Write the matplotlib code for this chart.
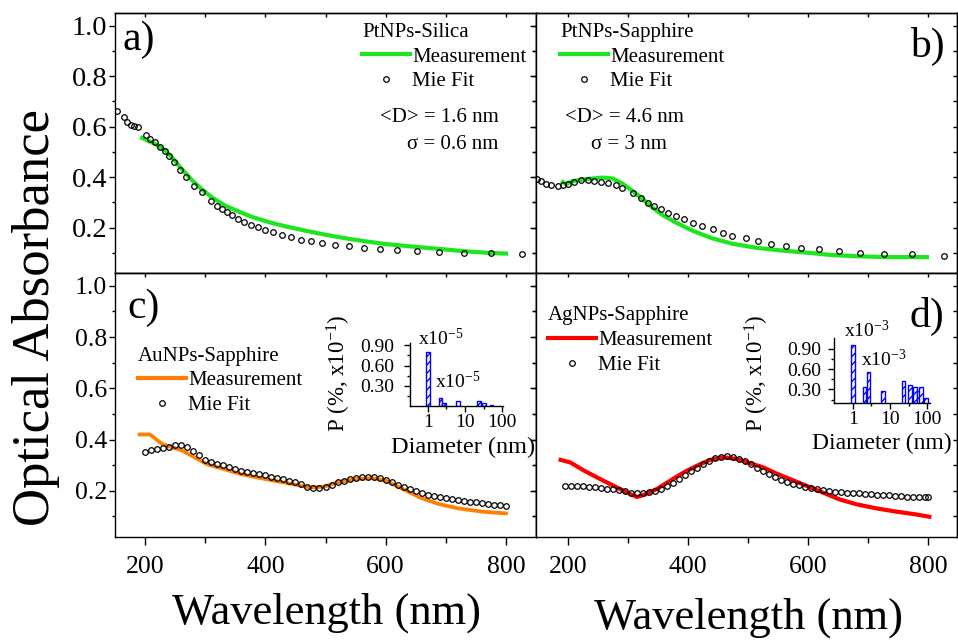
import matplotlib
matplotlib.use('Agg')
import matplotlib.pyplot as plt
from matplotlib.ticker import MultipleLocator, FixedLocator, FixedFormatter, FormatStrFormatter, NullFormatter

plt.rcParams['font.family'] = ['Liberation Serif', 'DejaVu Serif']
plt.rcParams['mathtext.fontset'] = 'custom'
plt.rcParams['mathtext.rm'] = 'Liberation Serif'
plt.rcParams['mathtext.it'] = 'Liberation Serif:italic'
plt.rcParams['axes.linewidth'] = 1.0

# ---------------- data ----------------
# a) PtNPs-Silica
a_meas_x = [195, 217, 234, 247, 261, 278, 294, 311, 333, 355, 377, 405, 433, 466, 499, 532, 565, 599, 643, 687, 731, 770, 800]
a_meas_y = [0.555, 0.531, 0.505, 0.472, 0.432, 0.388, 0.352, 0.320, 0.287, 0.264, 0.243, 0.222, 0.205, 0.188, 0.172, 0.158, 0.146, 0.135, 0.125, 0.116, 0.106, 0.100, 0.097]
a_fit_x = [154, 165, 170, 176, 181, 188, 201, 209, 216, 224, 233, 239, 248, 258, 268, 281, 295, 310, 319, 328, 336, 345, 355, 365,
           376, 387, 400, 413, 427, 443, 459, 476, 495, 516, 539, 564, 590, 619, 652, 689, 730, 776, 826]
a_fit_y = [0.663, 0.637, 0.617, 0.607, 0.601, 0.597, 0.567, 0.551, 0.538, 0.521, 0.505, 0.485, 0.459, 0.430, 0.399, 0.366, 0.340, 0.307,
           0.287, 0.274, 0.261, 0.248, 0.234, 0.224, 0.212, 0.201, 0.191, 0.182, 0.171, 0.162, 0.152, 0.146, 0.138, 0.131, 0.125,
           0.119, 0.114, 0.112, 0.108, 0.104, 0.101, 0.100, 0.097]

# b) PtNPs-Sapphire
b_meas_x = [192, 197, 208, 230, 258, 275, 291, 308, 325, 341, 358, 380, 408, 441, 474, 513, 552, 596, 640, 685, 729, 798]
b_meas_y = [0.380, 0.372, 0.384, 0.392, 0.398, 0.394, 0.374, 0.345, 0.312, 0.279, 0.249, 0.220, 0.187, 0.157, 0.136, 0.120,
            0.110, 0.101, 0.091, 0.086, 0.083, 0.083]
b_fit_x = [149, 156, 164, 172, 183, 192, 200, 211, 222, 233, 244, 255, 267, 280, 291, 308, 322, 333, 344, 355, 366, 380, 394,
           408, 424, 441, 458, 474, 496, 516, 538, 563, 588, 618, 651, 687, 726, 773, 826]
b_fit_y = [0.394, 0.385, 0.374, 0.369, 0.365, 0.368, 0.374, 0.382, 0.388, 0.388, 0.385, 0.381, 0.378, 0.368, 0.355, 0.335,
           0.316, 0.299, 0.286, 0.272, 0.259, 0.246, 0.233, 0.220, 0.206, 0.193, 0.180, 0.167, 0.157, 0.147, 0.136, 0.127,
           0.120, 0.114, 0.107, 0.101, 0.097, 0.094, 0.087]

# c) AuNPs-Sapphire
c_meas_x = [191, 208, 229, 263, 303, 331, 360, 400, 446, 474, 497, 520, 549, 577, 600, 629, 657, 686, 720, 760, 800]
c_meas_y = [0.420, 0.420, 0.382, 0.356, 0.304, 0.285, 0.265, 0.246, 0.226, 0.213, 0.216, 0.233, 0.246, 0.250, 0.240, 0.207,
            0.174, 0.150, 0.132, 0.119, 0.112]
c_fit_x = [200, 210, 220, 230, 240, 250, 260, 270, 280, 290, 300, 310, 320, 330, 340, 350, 360, 370, 380, 390, 400,
           410, 420, 430, 440, 450, 460, 470, 480, 490, 500, 510, 520, 530, 540, 550, 560, 570, 580, 590, 600,
           610, 620, 630, 640, 650, 660, 670, 680, 690, 700, 710, 720, 730, 740, 750, 760, 770, 780, 790, 800]
c_fit_y = [0.350, 0.358, 0.365, 0.369, 0.372, 0.377, 0.380, 0.372, 0.356, 0.338, 0.320, 0.312, 0.305, 0.299, 0.292, 0.285,
           0.278, 0.274, 0.270, 0.266, 0.262, 0.256, 0.250, 0.245, 0.240, 0.233, 0.225, 0.216, 0.213, 0.212, 0.215, 0.224,
           0.233, 0.240, 0.246, 0.250, 0.253, 0.255, 0.254, 0.249, 0.242, 0.233, 0.224, 0.215, 0.207, 0.198, 0.191, 0.185,
           0.179, 0.175, 0.171, 0.167, 0.164, 0.161, 0.158, 0.155, 0.152, 0.149, 0.146, 0.143, 0.141]

# d) AgNPs-Sapphire
d_meas_x = [188, 204, 227, 249, 276, 299, 315, 326, 348, 370, 393, 415, 437, 459, 481, 503, 525, 547, 570, 597, 625, 652,
            680, 713, 747, 780, 802]
d_meas_y = [0.321, 0.311, 0.279, 0.252, 0.220, 0.193, 0.176, 0.184, 0.207, 0.239, 0.272, 0.298, 0.321, 0.331, 0.325, 0.308,
            0.292, 0.268, 0.246, 0.220, 0.193, 0.167, 0.148, 0.132, 0.119, 0.108, 0.099]
d_fit_x = [195, 205, 215, 225, 235, 245, 255, 265, 275, 285, 295, 305, 315, 325, 335, 345, 355, 365, 375, 385, 395,
           405, 415, 425, 435, 445, 455, 465, 475, 485, 495, 505, 515, 525, 535, 545, 555, 565, 575, 585, 595,
           605, 615, 625, 635, 645, 655, 665, 675, 685, 695, 705, 715, 725, 735, 745, 755, 765, 775, 785, 795, 800]
d_fit_y = [0.220, 0.220, 0.220, 0.219, 0.217, 0.214, 0.211, 0.209, 0.207, 0.203, 0.198, 0.193, 0.190, 0.191, 0.194, 0.200,
           0.208, 0.219, 0.232, 0.247, 0.262, 0.277, 0.291, 0.305, 0.317, 0.328, 0.334, 0.336, 0.334, 0.326, 0.315, 0.303,
           0.290, 0.278, 0.266, 0.254, 0.244, 0.235, 0.227, 0.221, 0.215, 0.210, 0.206, 0.202, 0.200, 0.197, 0.195, 0.193,
           0.192, 0.190, 0.188, 0.187, 0.185, 0.183, 0.182, 0.180, 0.179, 0.178, 0.178, 0.177, 0.176, 0.176]

# insets: size distributions
c_ins_diam = [1.0, 2.2, 2.7, 6.5, 23.5, 33, 52]
c_ins_p = [0.80, 0.125, 0.05, 0.075, 0.075, 0.04, 0.015]
d_ins_diam = [1.0, 2.05, 2.65, 6.4, 23, 34, 47, 58, 68, 94]
d_ins_p = [0.95, 0.34, 0.565, 0.28, 0.43, 0.36, 0.34, 0.28, 0.34, 0.175]

y_ticks = [0.2, 0.4, 0.6, 0.8, 1.0]
x_ticks = [200, 400, 600, 800]
ins_x_ticks = [1, 10, 100]
ins_x_labels = ['1', '10', '100']
ins_y_ticks = [0.30, 0.60, 0.90]

GREEN = '#1EE61E'
ORANGE = '#FF7F00'
RED = '#FF0000'
BLUE = '#0000FF'

# ---------------- figure ----------------
W, H = 958, 642
fig = plt.figure(figsize=(W / 100, H / 100), dpi=100)


def box(x0, y0, x1, y1):
    return [x0 / W, 1 - y1 / H, (x1 - x0) / W, (y1 - y0) / H]


def style(ax, xlim, show_x, show_y, lsize):
    ax.set_xlim(*xlim)
    ax.set_ylim(0.02, 1.05)
    ax.xaxis.set_major_locator(FixedLocator(x_ticks))
    ax.xaxis.set_minor_locator(MultipleLocator(100))
    ax.yaxis.set_major_locator(FixedLocator(y_ticks))
    ax.yaxis.set_minor_locator(MultipleLocator(0.1))
    ax.yaxis.set_major_formatter(FormatStrFormatter('%.1f'))
    ax.tick_params(axis='x', which='major', direction='out', length=6, width=1.0, pad=8,
                   labelsize=lsize, labelbottom=show_x)
    ax.tick_params(axis='x', which='minor', direction='out', length=4.5, width=1.0)
    ax.tick_params(axis='y', which='major', direction='out', length=4, width=1.0, pad=1.5,
                   labelsize=lsize, labelleft=show_y)
    ax.tick_params(axis='y', which='minor', direction='out', length=2.2, width=1.0)
    sx = ax.secondary_xaxis('top')
    sx.xaxis.set_major_locator(MultipleLocator(100))
    sx.tick_params(direction='in', length=3, width=1.0, labeltop=False)
    sy = ax.secondary_yaxis('right')
    sy.yaxis.set_major_locator(MultipleLocator(0.1))
    sy.yaxis.set_minor_locator(MultipleLocator(0.1))
    sy.tick_params(direction='in', length=3, width=1.0, labelright=False)


def legend(ax, color, title, anchor):
    ln, = ax.plot([], [], '-', color=color, lw=3)
    mk, = ax.plot([], [], 'o', ms=4, mfc='none', mec='black', mew=0.9)
    ax.legend([ln, mk], ['Measurement', 'Mie Fit'], title=title, loc='upper left',
              bbox_to_anchor=anchor, frameon=False, fontsize=15, title_fontsize=15,
              handlelength=2.3, handletextpad=0.1, labelspacing=0.25, borderpad=0,
              borderaxespad=0, alignment='left', numpoints=1)


ax_a = fig.add_axes(box(115, 13, 536, 273))
ax_b = fig.add_axes(box(536, 13, 957, 273))
ax_c = fig.add_axes(box(115, 273, 536, 537))
ax_d = fig.add_axes(box(536, 273, 957, 537))

style(ax_a, (150, 850), False, True, 20.5)
style(ax_b, (147, 848), False, False, 20)
style(ax_c, (150, 850), True, True, 18.5)
style(ax_d, (147, 848), True, False, 18.5)

fit_kw = dict(ls='none', marker='o', ms=4, mfc='none', mec='black', mew=0.9)

ax_a.plot(a_meas_x, a_meas_y, '-', color=GREEN, lw=3)
ax_a.plot(a_fit_x, a_fit_y, **fit_kw)
ax_b.plot(b_meas_x, b_meas_y, '-', color=GREEN, lw=3)
ax_b.plot(b_fit_x, b_fit_y, **fit_kw)
ax_c.plot(c_meas_x, c_meas_y, '-', color=ORANGE, lw=2.7)
ax_c.plot(c_fit_x, c_fit_y, **fit_kw)
ax_d.plot(d_meas_x, d_meas_y, '-', color=RED, lw=3)
ax_d.plot(d_fit_x, d_fit_y, **fit_kw)

legend(ax_a, GREEN, 'PtNPs-Silica', (0.587, 0.962))
legend(ax_b, GREEN, 'PtNPs-Sapphire', (0.057, 0.962))
legend(ax_c, ORANGE, 'AuNPs-Sapphire', (0.055, 0.721))
legend(ax_d, RED, 'AgNPs-Sapphire', (0.0285, 0.874))

ax_a.text(0.629, 0.58, '<D> = 1.6 nm', transform=ax_a.transAxes, fontsize=15, va='baseline')
ax_a.text(0.694, 0.476, 'σ = 0.6 nm', transform=ax_a.transAxes, fontsize=15, va='baseline')
ax_b.text(0.069, 0.58, '<D> = 4.6 nm', transform=ax_b.transAxes, fontsize=15, va='baseline')
ax_b.text(0.131, 0.476, 'σ = 3 nm', transform=ax_b.transAxes, fontsize=15, va='baseline')

ax_a.text(0.017, 0.858, 'a)', transform=ax_a.transAxes, fontsize=30, va='baseline')
ax_b.text(0.888, 0.831, 'b)', transform=ax_b.transAxes, fontsize=30, va='baseline')
ax_c.text(0.03, 0.83, 'c)', transform=ax_c.transAxes, fontsize=30, va='baseline')
ax_d.text(0.888, 0.795, 'd)', transform=ax_d.transAxes, fontsize=30, va='baseline')

fig.text(36 / W, 1 - 317 / H, 'Optical Absorbance', rotation=90, ha='center', va='center', fontsize=38)
fig.text(326 / W, 1 - 624 / H, 'Wavelength (nm)', ha='center', va='baseline', fontsize=32)
fig.text(748 / W, 1 - 629 / H, 'Wavelength (nm)', ha='center', va='baseline', fontsize=32)


# ---------------- insets ----------------
def inset(rect, diam, p, xlim, ylim, ypad, note1, note2):
    ins = fig.add_axes(rect)
    ins.patch.set_alpha(0)
    ins.set_xscale('log')
    f = 1.12
    left = [d / f for d in diam]
    width = [d * f - d / f for d in diam]
    ins.bar(left, p, width=width, align='edge', color='white', edgecolor=BLUE,
            hatch='////', linewidth=1.0)
    ins.set_xlim(*xlim)
    ins.set_ylim(*ylim)
    for s in ('top', 'right'):
        ins.spines[s].set_visible(False)
    ins.xaxis.set_major_locator(FixedLocator(ins_x_ticks))
    ins.xaxis.set_major_formatter(FixedFormatter(ins_x_labels))
    ins.xaxis.set_minor_locator(FixedLocator([10 ** 0.5, 10 ** 1.5]))
    ins.xaxis.set_minor_formatter(NullFormatter())
    ins.yaxis.set_major_locator(FixedLocator(ins_y_ticks))
    ins.yaxis.set_minor_locator(FixedLocator([0.15, 0.45, 0.75]))
    ins.yaxis.set_major_formatter(FormatStrFormatter('%.2f'))
    ins.tick_params(which='major', direction='out', length=4, width=1.0, labelsize=14)
    ins.tick_params(which='minor', direction='out', length=2.5, width=1.0)
    ins.tick_params(axis='x', pad=2)
    ins.tick_params(axis='y', pad=ypad)
    ins.text(note1[0], note1[1], 'x10$^{-%d}$' % note1[2], fontsize=14, clip_on=False)
    ins.text(note2[0], note2[1], 'x10$^{-%d}$' % note2[2], fontsize=14, clip_on=False)
    return ins


inset(box(410, 343, 503, 406), c_ins_diam, c_ins_p, (0.33, 105), (0.0, 0.935), 7,
      (0.55, 0.90, 5), (1.55, 0.27, 5))
inset(box(834, 338, 930, 403), d_ins_diam, d_ins_p, (0.315, 118), (0.1, 1.06), 5,
      (0.6, 1.08, 3), (1.7, 0.64, 3))

fig.text(339 / W, 1 - 373 / H, 'P (%, x10$^{-1}$)', rotation=90, ha='center', va='center', fontsize=16.5)
fig.text(757 / W, 1 - 373 / H, 'P (%, x10$^{-1}$)', rotation=90, ha='center', va='center', fontsize=16.5)
fig.text(391 / W, 1 - 447 / H, 'Diameter (nm)', ha='left', va='center', fontsize=17.5)
fig.text(812 / W, 1 - 443 / H, 'Diameter (nm)', ha='left', va='center', fontsize=17)

fig.savefig('out.png', dpi=100)
